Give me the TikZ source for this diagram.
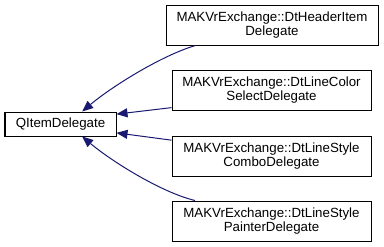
\documentclass[tikz,border=0pt]{standalone}
\usepackage{fontspec}
\setmainfont{Liberation Sans}
\usetikzlibrary{arrows.meta}
\definecolor{edgeblue}{HTML}{191970}
\tikzset{
  cls/.style={draw=black, line width=1pt, fill=white, align=center, inner sep=0pt,
    font=\fontsize{13.3pt}{14pt}\selectfont},
  edge/.style={draw=edgeblue, line width=1pt,
    {Triangle[length=11pt,width=9pt,fill=edgeblue]}-{}}
}
\begin{document}
\begin{tikzpicture}[x=1pt,y=-1pt]
\useasboundingbox (0,0) rectangle (384,247);
\node[cls, minimum width=111pt, minimum height=24pt] (q) at (60.5,124) {QItemDelegate};
\node[cls, minimum width=212pt, minimum height=40pt] (b1) at (272,25) {MAKVrExchange::DtHeaderItem\\Delegate};
\node[cls, minimum width=199pt, minimum height=40pt] (b2) at (271.5,90) {MAKVrExchange::DtLineColor\\SelectDelegate};
\node[cls, minimum width=199pt, minimum height=40pt] (b3) at (271.5,156) {MAKVrExchange::DtLineStyle\\ComboDelegate};
\node[cls, minimum width=199pt, minimum height=40pt] (b4) at (271.5,221) {MAKVrExchange::DtLineStyle\\PainterDelegate};
\draw[edge] (q.30) .. controls (110,88) and (160,56) .. (b1.195);
\draw[edge] (q.10) -- (b2.190);
\draw[edge] (q.-9) -- (b3.171);
\draw[edge] (q.-30) .. controls (110,160) and (160,192) .. (b4.165);
\end{tikzpicture}
\end{document}
